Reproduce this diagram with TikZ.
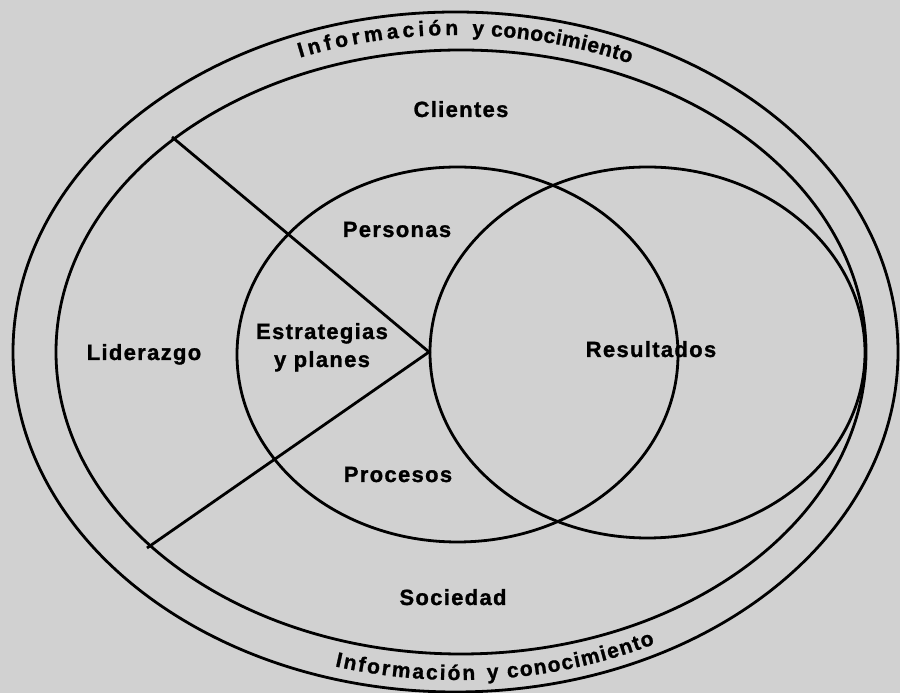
\documentclass[tikz,border=0pt]{standalone}
\usepackage{fontspec}
\setmainfont{Liberation Sans}
\newfontfamily\lblfont{Liberation Sans}[UprightFont={* Bold}, LetterSpace=6, FakeBold=1.2]
\newfontfamily\curvefont{Liberation Sans}[UprightFont={* Bold}, FakeBold=1.2]
\usetikzlibrary{shapes.geometric,decorations.text,calc}
\begin{document}
\begin{tikzpicture}[x=1pt,y=1pt,
  ring/.style={draw, ellipse, line width=2.8pt, inner sep=0pt},
  lbl/.style={font=\lblfont\fontsize{22}{26}\selectfont, anchor=base, inner sep=0pt},
  divider/.style={line width=2.8pt},
  arcword/.style={decorate, decoration={text along path, text align=fit to path, text={|\curvefont\fontsize{21}{21}\selectfont|#1}}}]
\fill[black!18] (0,0) rectangle (900,693);
\useasboundingbox (0,0) rectangle (900,693);
% rings
\node[ring, minimum width=885, minimum height=680] (outer) at (455.5,341) {};
\node[ring, minimum width=810, minimum height=604] (inner) at (461,341) {};
\node[ring, minimum width=441, minimum height=375] (lcirc) at (457.5,338.5) {};
\node[ring, minimum width=435, minimum height=371] (rcirc) at (647.5,340.5) {};
% dividers
\coordinate (A) at (172,556);
\coordinate (J) at (429,341);
\coordinate (B) at (147,145);
\draw[divider] (A) -- (J) -- (B);
% labels
\node[lbl] (clientes) at (461,576) {Clientes};
\node[lbl] (personas) at (397,456) {Personas};
\node[lbl] (estr) at (322,354) {Estrategias};
\node[lbl] (planes) at (322,326) {y planes};
\node[lbl] (procesos) at (398,211) {Procesos};
\node[lbl] (liderazgo) at (144,333) {Liderazgo};
\node[lbl] (resultados) at (651,336) {Resultados};
\node[lbl] (sociedad) at (453,88) {Sociedad};
% curved texts, top
\path[arcword={Información}] (456,341) ++(111.8:420 and 317) arc[start angle=111.8, end angle=89.7, x radius=420, y radius=317];
\path[arcword={y conocimiento}] (456,341) ++(87.8:420 and 317) arc[start angle=87.8, end angle=65.5, x radius=420, y radius=317];
% curved texts, bottom
\path[arcword={Información}] (458,341) ++(253.4:431 and 328) arc[start angle=253.4, end angle=272.3, x radius=431, y radius=328];
\path[arcword={y conocimiento}] (458,341) ++(273.9:431 and 328) arc[start angle=273.9, end angle=297.2, x radius=431, y radius=328];
\end{tikzpicture}
\end{document}
